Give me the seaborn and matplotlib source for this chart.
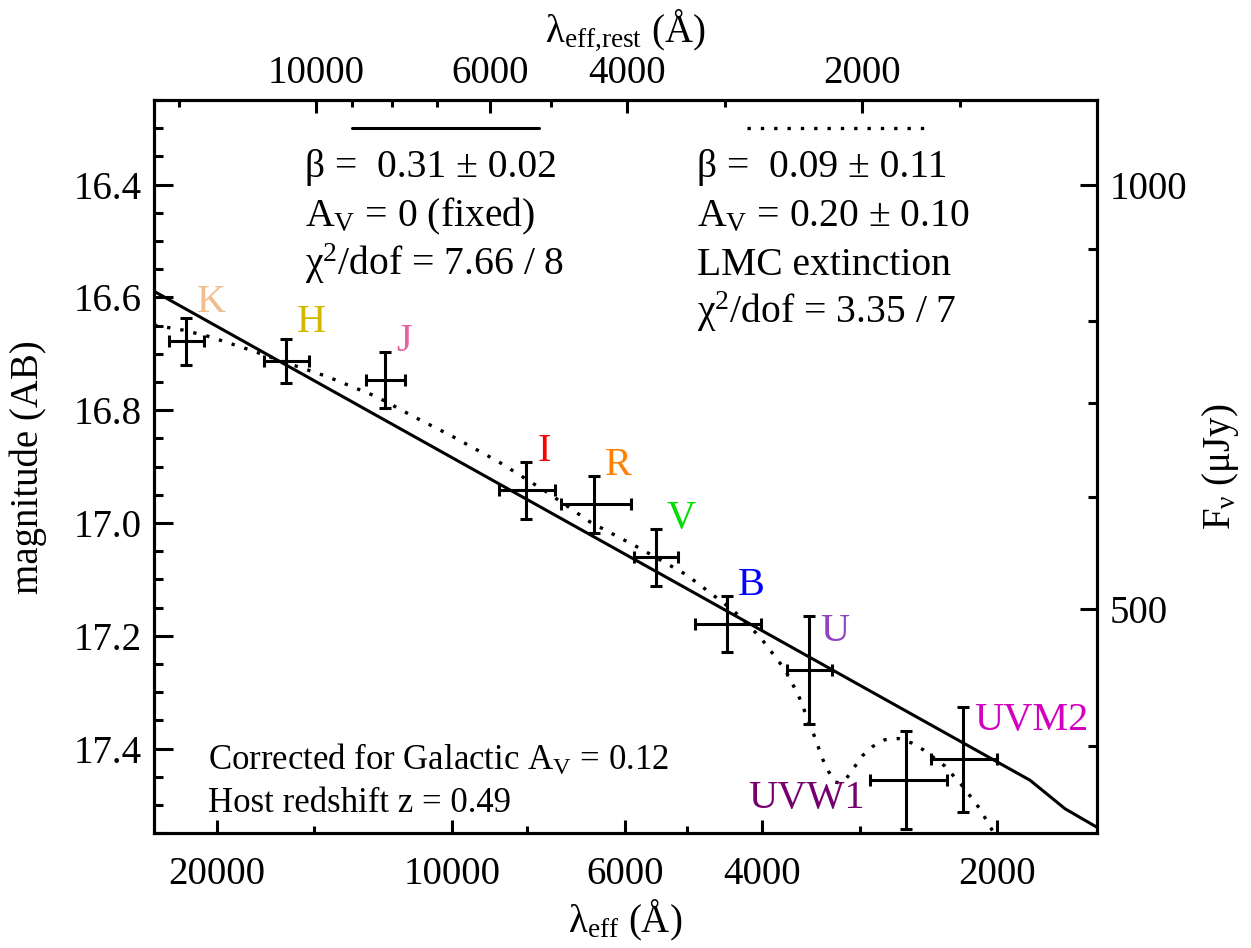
import numpy as np
import pandas as pd
import matplotlib
matplotlib.use("Agg")
import matplotlib.pyplot as plt
import seaborn as sns
from matplotlib.ticker import FixedLocator, FixedFormatter, NullFormatter, FormatStrFormatter

# ---------------- data ----------------
redshift = 0.49
bands = ["K", "H", "J", "I", "R", "V", "B", "U", "UVW1", "UVM2"]
band_colors = ["#F0BE8C", "#D2B900", "#E8609F", "#FF0000", "#FF8000",
               "#00DD00", "#0000FF", "#8E44C4", "#76006E", "#D400C0"]
lam_eff = [21900, 16300, 12175, 8030, 6566, 5478, 4443, 3489, 2618, 2215]
lam_err = [1150, 1080, 705, 655, 678, 355, 430, 235, 297, 215]
mag = [16.678, 16.712, 16.746, 16.942, 16.967, 17.061, 17.179, 17.260, 17.455, 17.419]
mag_err = [0.041, 0.039, 0.050, 0.050, 0.050, 0.050, 0.050, 0.096, 0.087, 0.093]

# power-law model (solid)
pl_lam = [24500, 1816, 1638, 1450]
pl_mag = [16.583, 17.456, 17.5065, 17.549]

# LMC-extinguished model (dotted)
lmc_lam = [24062, 22071, 20502, 18130, 16193, 14458, 12475, 11199, 10050, 8715,
           7556, 6650, 5738, 5000, 4357, 4027, 3741, 3597, 3441, 3347,
           3292, 3228, 3181, 3119, 3043, 2975, 2888, 2785, 2678, 2574,
           2488, 2334, 2211, 2105, 2024, 1967]
lmc_mag = [16.649, 16.658, 16.669, 16.693, 16.717, 16.740, 16.776, 16.811, 16.844, 16.891,
           16.945, 16.998, 17.045, 17.092, 17.155, 17.202, 17.260, 17.305, 17.373, 17.419,
           17.440, 17.459, 17.461, 17.452, 17.431, 17.412, 17.396, 17.384, 17.382, 17.390,
           17.402, 17.431, 17.468, 17.507, 17.548, 17.577]

# axes ticks
obs_major = [20000, 10000, 6000, 4000, 2000]
obs_minor = [15000, 8000, 5000, 3000]
rest_major = [10000, 6000, 4000, 2000]
rest_minor = [15000, 9000, 8000, 7000, 5000, 3000, 1500]
mag_major = [16.4, 16.6, 16.8, 17.0, 17.2, 17.4]
flux_major = [1000, 500]
flux_minor = [900, 800, 700, 600, 400]
xlim_obs = (24060, 1492)
ylim_mag = (17.55, 16.25)

# ---------------- style ----------------
sns.set_theme(style="ticks")
plt.rcParams.update({
    "font.family": ["Liberation Serif", "DejaVu Serif"],
    "mathtext.fontset": "custom",
    "mathtext.rm": "Liberation Serif",
    "mathtext.it": "Liberation Serif:italic",
    "mathtext.bf": "Liberation Serif:bold",
    "axes.linewidth": 2.2,
    "axes.edgecolor": "black",
    "text.color": "black",
    "axes.labelcolor": "black",
    "xtick.color": "black",
    "ytick.color": "black",
})

FS = 28
fig = plt.figure(figsize=(12.51, 9.48), dpi=100)
ax = fig.add_axes([0.1231, 0.1210, 0.75356, 0.77352])
ax.set_facecolor("white")
fig.patch.set_facecolor("white")

# model curves
sns.lineplot(x=pl_lam, y=pl_mag, ax=ax, color="black", lw=2.2, sort=False,
             estimator=None, zorder=3)
sns.lineplot(x=lmc_lam, y=lmc_mag, ax=ax, color="black", lw=2.4, sort=False,
             estimator=None, linestyle=(0, (1, 3)), zorder=3)

# data points
ax.errorbar(lam_eff, mag, xerr=lam_err, yerr=mag_err, fmt="none", ecolor="black",
            elinewidth=2.2, capsize=4.5, capthick=2.2, zorder=4)

# band labels
for b, c, x, y in zip(bands, band_colors, lam_eff, mag):
    if b == "UVW1":
        ax.annotate(b, (x, y), xytext=(-29.5, -20.7), textcoords="offset points",
                    ha="right", va="baseline", color=c, fontsize=29)
    else:
        ax.annotate(b, (x, y), xytext=(7.9, 20.9), textcoords="offset points",
                    ha="left", va="baseline", color=c, fontsize=29)

ax.set_xscale("log")
ax.set_xlim(*xlim_obs)
ax.set_ylim(*ylim_mag)

ax.xaxis.set_major_locator(FixedLocator(obs_major))
ax.xaxis.set_major_formatter(FixedFormatter([str(v) for v in obs_major]))
ax.xaxis.set_minor_locator(FixedLocator(obs_minor))
ax.xaxis.set_minor_formatter(NullFormatter())
ax.yaxis.set_major_locator(FixedLocator(mag_major))
ax.yaxis.set_major_formatter(FormatStrFormatter("%.1f"))
ax.yaxis.set_minor_locator(FixedLocator(np.arange(16.25, 17.56, 0.05)))

ax.tick_params(axis="x", which="major", direction="in", length=9.6, width=2.2,
               top=False, bottom=True, labelsize=FS, pad=16)
ax.tick_params(axis="x", which="minor", direction="in", length=4.8, width=2.2,
               top=False, bottom=True)
ax.tick_params(axis="y", which="major", direction="in", length=13.7, width=2.2,
               left=True, right=False, labelsize=FS, pad=9)
ax.tick_params(axis="y", which="minor", direction="in", length=6.8, width=2.2,
               left=True, right=False)

ax.set_xlabel("λ$_{\\mathrm{eff}}$ (Å)", fontsize=FS)
ax.xaxis.set_label_coords(0.5, -0.088)
ax.set_ylabel("magnitude (AB)", fontsize=FS)
ax.yaxis.set_label_coords(-0.113, 0.5)

# top axis: rest-frame wavelength
axt = ax.twiny()
axt.set_xscale("log")
axt.set_xlim(xlim_obs[0] / (1 + redshift), xlim_obs[1] / (1 + redshift))
axt.xaxis.set_major_locator(FixedLocator(rest_major))
axt.xaxis.set_major_formatter(FixedFormatter([str(v) for v in rest_major]))
axt.xaxis.set_minor_locator(FixedLocator(rest_minor))
axt.xaxis.set_minor_formatter(NullFormatter())
axt.tick_params(axis="x", which="major", direction="in", length=9.6, width=2.2,
                top=True, bottom=False, labelsize=FS, pad=6)
axt.tick_params(axis="x", which="minor", direction="in", length=4.8, width=2.2,
                top=True, bottom=False)
axt.set_xlabel("λ$_{\\mathrm{eff{,}rest}}$ (Å)", fontsize=FS)
axt.xaxis.set_label_coords(0.5, 1.080)

# right axis: flux density
axr = ax.twinx()
axr.set_ylim(*ylim_mag)
axr.yaxis.set_major_locator(FixedLocator([23.9 - 2.5 * np.log10(f) for f in flux_major]))
axr.yaxis.set_major_formatter(FixedFormatter([str(f) for f in flux_major]))
axr.yaxis.set_minor_locator(FixedLocator([23.9 - 2.5 * np.log10(f) for f in flux_minor]))
axr.yaxis.set_minor_formatter(NullFormatter())
axr.tick_params(axis="y", which="major", direction="in", length=12.5, width=2.2,
                right=True, left=False, labelsize=FS, pad=9.6)
axr.tick_params(axis="y", which="minor", direction="in", length=6.2, width=2.2,
                right=True, left=False)
axr.set_ylabel("F$_{\\mathrm{ν}}$ (μJy)", fontsize=FS, rotation=90)
axr.yaxis.set_label_coords(1.11, 0.5)

for a in (ax, axt, axr):
    for s in a.spines.values():
        s.set_linewidth(2.2)
        s.set_color("black")

# legend-style annotations
ax.plot([0.210, 0.408], [0.962, 0.962], transform=ax.transAxes, color="black", lw=2.2)
ax.plot([0.629, 0.821], [0.962, 0.962], transform=ax.transAxes, color="black", lw=2.4,
        linestyle=(0, (1, 3)))

left_col = ["β =  0.31 ± 0.02", "A$_{\\mathrm{V}}$ = 0 (fixed)", "χ$^{2}$/dof = 7.66 / 8"]
right_col = ["β =  0.09 ± 0.11", "A$_{\\mathrm{V}}$ = 0.20 ± 0.10", "LMC extinction",
             "χ$^{2}$/dof = 3.35 / 7"]
rows_y = [0.895, 0.828, 0.762, 0.696]
for t, yy in zip(left_col, rows_y):
    ax.text(0.160, yy, t, transform=ax.transAxes, fontsize=28.5, va="baseline", ha="left")
for t, yy in zip(right_col, rows_y):
    ax.text(0.576, yy, t, transform=ax.transAxes, fontsize=28.5, va="baseline", ha="left")

ax.text(0.0573, 0.087, "Corrected for Galactic A$_{\\mathrm{V}}$ = 0.12", transform=ax.transAxes,
        fontsize=25, va="baseline", ha="left")
ax.text(0.0573, 0.0295, "Host redshift z = 0.49", transform=ax.transAxes,
        fontsize=25, va="baseline", ha="left")

fig.savefig("out.png", dpi=100, facecolor="white")
